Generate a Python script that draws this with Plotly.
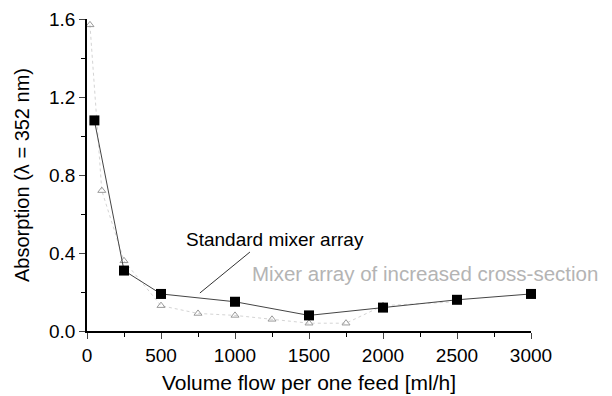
import plotly.graph_objects as go

std_x = [50, 250, 500, 1000, 1500, 2000, 2500, 3000]
std_y = [1.08, 0.31, 0.19, 0.15, 0.08, 0.12, 0.16, 0.19]

inc_x = [20, 100, 250, 500, 750, 1000, 1250, 1500, 1750, 2000, 2500]
inc_y = [1.57, 0.72, 0.36, 0.13, 0.09, 0.08, 0.06, 0.04, 0.04, 0.13, 0.15]

x_ticks = [0, 500, 1000, 1500, 2000, 2500, 3000]
y_ticks = [0.0, 0.4, 0.8, 1.2, 1.6]
y_tick_labels = ["0.0", "0.4", "0.8", "1.2", "1.6"]

FONT = "Arial, Liberation Sans"

fig = go.Figure()
fig.add_trace(go.Scatter(
    x=inc_x, y=inc_y, mode="lines+markers",
    line=dict(color="#d4d4d4", width=1, dash="dot"),
    marker=dict(symbol="triangle-up-open", size=7, color="#9a9a9a", line=dict(width=1)),
    cliponaxis=False, showlegend=False))
fig.add_trace(go.Scatter(
    x=std_x, y=std_y, mode="lines+markers",
    line=dict(color="#444444", width=1),
    marker=dict(symbol="square", size=10, color="black"),
    cliponaxis=False, showlegend=False))

fig.add_annotation(x=1267, y=0.467, text="Standard mixer array", showarrow=False,
                   font=dict(family=FONT, size=19, color="black"))
fig.add_shape(type="line", x0=763, y0=0.195, x1=1101, y1=0.405,
              line=dict(color="#333333", width=1))
fig.add_annotation(x=1100, y=0.297, text="Mixer array of increased cross-section",
                   showarrow=False, xanchor="left",
                   font=dict(family=FONT, size=20.5, color="#b4b4b4"))

fig.update_xaxes(range=[0, 3000], tickvals=x_ticks, ticks="outside", ticklen=6,
                 showline=True, linecolor="black", linewidth=1.5, showgrid=False, zeroline=False,
                 automargin=False,
                 minor=dict(dtick=250, ticks="outside", ticklen=4, tickcolor="black"),
                 tickfont=dict(family=FONT, size=19, color="black"),
                 title=dict(text="Volume flow per one feed [ml/h]", standoff=11,
                            font=dict(family=FONT, size=21, color="black")))
fig.update_yaxes(range=[0, 1.6], tickvals=y_ticks, ticktext=y_tick_labels, ticks="outside", ticklen=6,
                 showline=True, linecolor="black", linewidth=1.5, showgrid=False, zeroline=False,
                 automargin=False,
                 minor=dict(dtick=0.2, ticks="outside", ticklen=4, tickcolor="black"),
                 tickfont=dict(family=FONT, size=19, color="black"),
                 title=dict(text="Absorption (λ = 352 nm)", standoff=14,
                            font=dict(family=FONT, size=20, color="black")))

fig.update_layout(width=604, height=388, margin=dict(l=79, r=81, t=11, b=65),
                  plot_bgcolor="white", paper_bgcolor="white")
fig.write_html("out.html")
